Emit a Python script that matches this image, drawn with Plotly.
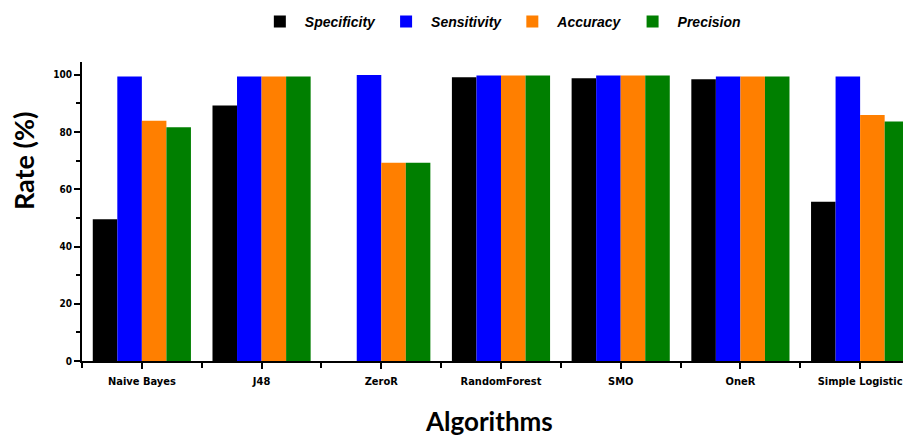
import plotly.graph_objects as go

categories = ["Naive Bayes", "J48", "ZeroR", "RandomForest", "SMO", "OneR", "Simple Logistic"]
specificity = [49.5, 89.3, 0, 99.2, 98.8, 98.5, 55.7]
sensitivity = [99.4, 99.4, 100, 99.8, 99.8, 99.4, 99.4]
accuracy = [84.0, 99.4, 69.3, 99.8, 99.8, 99.4, 86.0]
precision = [81.7, 99.4, 69.3, 99.8, 99.8, 99.4, 83.7]

series = [("Specificity", specificity, "#000000"),
          ("Sensitivity", sensitivity, "#0000ff"),
          ("Accuracy", accuracy, "#ff7f00"),
          ("Precision", precision, "#007f00")]

x = list(range(len(categories)))
fig = go.Figure()
for name, vals, col in series:
    fig.add_trace(go.Bar(x=x, y=vals, name=name, marker=dict(color=col, line=dict(width=0))))

tickfont = dict(family="DejaVu Sans Condensed, Liberation Sans, Arial", size=11, color="black", weight="bold")
ytickfont = dict(family="DejaVu Sans Condensed, Liberation Sans, Arial", size=10, color="black", weight="bold")
titlefont = dict(family="Lato, Open Sans", size=26, color="black", weight="bold")
fig.update_layout(
    width=903, height=429,
    margin=dict(l=74, r=0, t=54, b=76, autoexpand=False),
    paper_bgcolor="white", plot_bgcolor="white",
    barmode="group", bargap=0.18, bargroupgap=0,
    showlegend=True,
    legend=dict(orientation="h", x=0.2085, xanchor="left", y=1.134, yanchor="middle",
                font=dict(family="Liberation Sans, Arial", size=14,
                          color="black", style="italic", weight="bold"),
                itemwidth=40, bgcolor="rgba(0,0,0,0)"),
    xaxis=dict(range=[-0.5, 6.425], tickmode="array", tickvals=x, ticktext=categories,
               automargin=False, ticklabelstandoff=3,
               showline=True, linecolor="black", linewidth=2, ticks="outside", ticklen=6,
               tickwidth=2, tickcolor="black", tickfont=tickfont, showgrid=False, zeroline=False,
               minor=dict(tickmode="array", tickvals=[i + 0.5 for i in range(-1, 7)],
                          ticks="outside", ticklen=5, tickwidth=2, tickcolor="black", showgrid=False)),
    yaxis=dict(range=[0, 104.5], tickmode="array", tickvals=[0, 20, 40, 60, 80, 100],
               automargin=False,
               showline=True, linecolor="black", linewidth=2, ticks="outside", ticklen=6,
               tickwidth=2, tickcolor="black", tickfont=ytickfont, showgrid=False, zeroline=False,
               minor=dict(tickmode="array", tickvals=[10, 30, 50, 70, 90],
                          ticks="outside", ticklen=4, tickwidth=2, tickcolor="black", showgrid=False)),
    annotations=[
        dict(text="Algorithms", xref="paper", yref="paper", x=0.491, y=-0.2007,
             xanchor="center", yanchor="middle", showarrow=False, font=titlefont),
        dict(text="Rate (%)", xref="paper", yref="paper", x=-0.0712, y=0.672, textangle=-90,
             xanchor="center", yanchor="middle", showarrow=False,
             font=dict(family="Lato, Open Sans", size=27, color="black", weight="bold")),
    ],
)
fig.write_html("out.html")
